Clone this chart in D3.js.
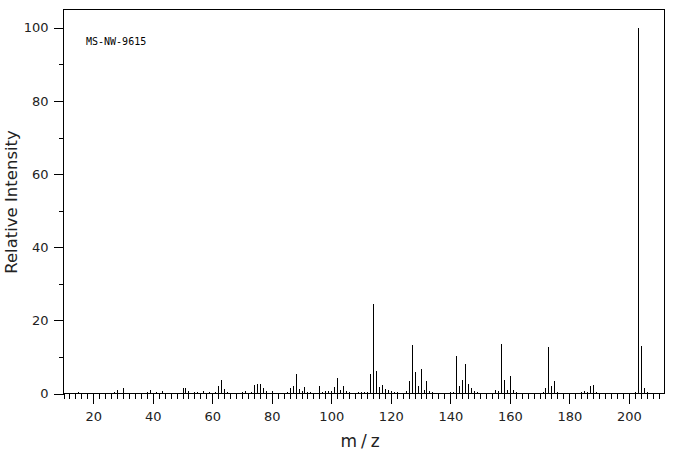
<!DOCTYPE html>
<html>
<head>
<meta charset="utf-8">
<script src="https://cdn.jsdelivr.net/npm/d3@7"></script>
<style>
  body { margin: 0; background: #fff; }
  svg { display: block; }
  .axis text { font-family: "DejaVu Sans", sans-serif; font-size: 13px; fill: #222; }
</style>
</head>
<body>
<div id="chart"></div>
<script>
// peak positions (m/z) and relative intensities
const mz = [15, 27, 28, 30, 38, 39, 41, 43, 50, 51, 52, 54, 55, 57, 59, 61, 62, 63, 64, 65,
  70, 71, 73, 74, 75, 76, 77, 78, 80, 85, 86, 87, 88, 89, 90, 91, 92, 93, 96, 97, 98, 99,
  100, 101, 102, 103, 104, 105, 106, 109, 110, 111, 112, 113, 114, 115, 116, 117, 118, 119,
  120, 121, 122, 125, 126, 127, 128, 129, 130, 131, 132, 133, 134, 140, 141, 142, 143, 144,
  145, 146, 147, 148, 149, 155, 156, 157, 158, 159, 160, 161, 162, 171, 172, 173, 174, 175,
  176, 184, 185, 186, 187, 188, 189, 202, 203, 204, 205, 206];
const intensity = [0.3, 0.4, 0.9, 1.5, 0.4, 0.9, 0.3, 0.6, 1.5, 1.5, 0.6, 0.3, 0.3, 0.6, 0.3, 0.3, 2.0, 3.6, 1.2, 0.4,
  0.4, 0.6, 0.3, 2.3, 2.5, 2.5, 1.5, 0.6, 0.6, 0.4, 1.5, 2.0, 5.3, 1.2, 0.6, 1.7, 0.4, 0.3, 2.0, 0.4, 0.6, 0.6,
  0.6, 1.7, 4.2, 0.9, 2.0, 0.6, 0.4, 0.3, 0.3, 0.3, 0.4, 5.3, 24.4, 6.1, 1.7, 2.3, 1.2, 0.9,
  0.6, 0.4, 0.3, 0.6, 3.4, 13.2, 5.8, 2.0, 6.7, 0.9, 3.4, 0.8, 0.3, 0.3, 0.4, 10.2, 2.0, 3.6,
  8.0, 2.6, 1.5, 0.6, 0.4, 0.9, 0.6, 13.4, 3.8, 0.9, 4.9, 0.9, 0.3, 0.4, 1.5, 12.6, 2.0, 3.4,
  0.4, 0.3, 0.6, 0.4, 2.0, 2.2, 0.3, 0.4, 100, 12.9, 1.5, 0.3];

const xMajor = [20, 40, 60, 80, 100, 120, 140, 160, 180, 200];
const yMajor = [0, 20, 40, 60, 80, 100];
const yMinor = [10, 30, 50, 70, 90];
const xMinor = d3.range(10, 212, 2);

const width = 676;
const height = 455;
const margin = { top: 9.5, right: 11.5, bottom: 61.5, left: 63.5 };

const svg = d3.select("#chart")
  .append("svg")
  .attr("width", width)
  .attr("height", height);

const x = d3.scaleLinear([10, 212], [margin.left, width - margin.right]);
const y = d3.scaleLinear([0, 105], [height - margin.bottom, margin.top]);

// frame
svg.append("rect")
  .attr("x", margin.left)
  .attr("y", margin.top)
  .attr("width", width - margin.right - margin.left)
  .attr("height", height - margin.bottom - margin.top)
  .attr("fill", "none")
  .attr("stroke", "#000")
  .attr("stroke-width", 1);

// y axis: major ticks with labels, minor ticks without
svg.append("g")
  .attr("class", "axis")
  .attr("transform", `translate(${margin.left},0)`)
  .call(d3.axisLeft(y).tickValues(yMajor).tickSize(10).tickPadding(5).tickFormat(d3.format("d")))
  .call(g => g.select(".domain").remove());

svg.append("g")
  .attr("transform", `translate(${margin.left},0)`)
  .call(d3.axisLeft(y).tickValues(yMinor).tickSize(5).tickFormat(""))
  .call(g => g.select(".domain").remove());

// x axis
svg.append("g")
  .attr("class", "axis")
  .attr("transform", `translate(0,${height - margin.bottom})`)
  .call(d3.axisBottom(x).tickValues(xMajor).tickSize(10).tickPadding(8).tickFormat(d3.format("d")))
  .call(g => g.select(".domain").remove());

svg.append("g")
  .attr("transform", `translate(0,${height - margin.bottom})`)
  .call(d3.axisBottom(x).tickValues(xMinor.filter(v => v % 20 !== 0)).tickSize(5).tickFormat(""))
  .call(g => g.select(".domain").remove());

svg.selectAll(".tick line").attr("shape-rendering", "crispEdges");

// peaks
svg.selectAll("line.peak")
  .data(mz)
  .enter()
  .append("line")
  .attr("class", "peak")
  .attr("x1", d => Math.round(x(d)) + 0.5)
  .attr("x2", d => Math.round(x(d)) + 0.5)
  .attr("y1", y(0))
  .attr("y2", (d, i) => y(intensity[i]))
  .attr("stroke", "#000")
  .attr("stroke-width", 1)
  .attr("shape-rendering", "crispEdges");

// labels
svg.append("text")
  .attr("x", 362)
  .attr("y", 447)
  .attr("text-anchor", "middle")
  .style("font-family", "DejaVu Sans, sans-serif")
  .style("font-size", "17px")
  .style("letter-spacing", "4px")
  .attr("fill", "#222")
  .text("m/z");

svg.append("text")
  .attr("transform", "translate(17,202) rotate(-90)")
  .attr("text-anchor", "middle")
  .style("font-family", "DejaVu Sans, sans-serif")
  .style("font-size", "16.5px")
  .attr("fill", "#222")
  .text("Relative Intensity");

svg.append("text")
  .attr("x", 86)
  .attr("y", 45)
  .style("font-family", "DejaVu Sans Mono, monospace")
  .style("font-size", "10px")
  .attr("fill", "#000")
  .text("MS-NW-9615");
</script>
</body>
</html>
